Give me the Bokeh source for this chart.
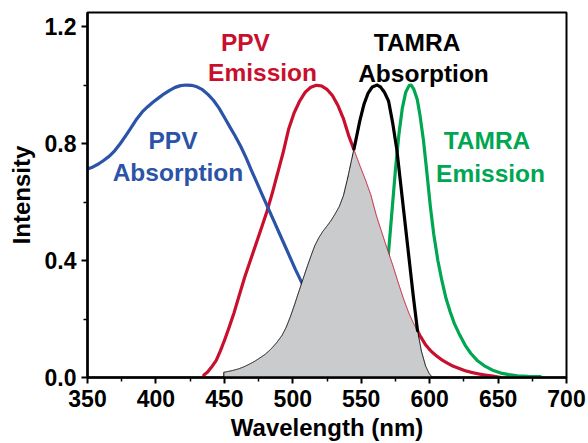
import numpy as np
from bokeh.plotting import figure
from bokeh.models import Range1d, FixedTicker, PrintfTickFormatter, Label
from bokeh.embed import file_html
from bokeh.resources import INLINE

# ---------------- data ----------------
ppv_abs_wl = [350, 354, 358, 362, 366, 370, 374, 378, 382, 386, 390, 394, 398, 402, 406, 410, 414, 418, 422,
              426, 430, 434, 438, 442, 446, 450, 454, 458, 462, 466, 470, 474, 478, 482, 486, 490, 494, 498, 502, 507]
ppv_abs_y = [0.713, 0.720, 0.730, 0.743, 0.757, 0.776, 0.800, 0.827, 0.855, 0.884, 0.908, 0.926, 0.942, 0.956,
             0.970, 0.982, 0.992, 0.998, 1.000, 0.999, 0.994, 0.984, 0.968, 0.948, 0.922, 0.890, 0.857, 0.825,
             0.790, 0.750, 0.706, 0.664, 0.621, 0.579, 0.537, 0.495, 0.453, 0.411, 0.369, 0.320]

ppv_em_wl = [435, 438, 441, 444, 447, 450, 453, 457, 461, 465, 469, 473, 477, 481, 485, 489, 493, 497, 501, 505,
             509, 513, 517, 521, 525, 529, 533, 537, 541, 545, 549, 553, 557, 561, 565, 569, 573, 577, 581, 585,
             589, 593, 597, 601, 605, 609, 613, 617, 621, 626, 631, 636, 641, 646, 652]
ppv_em_y = [0.008, 0.020, 0.038, 0.058, 0.090, 0.126, 0.165, 0.220, 0.283, 0.345, 0.400, 0.455, 0.510, 0.566,
            0.630, 0.700, 0.770, 0.850, 0.905, 0.945, 0.975, 0.992, 0.999, 0.997, 0.985, 0.964, 0.930, 0.885,
            0.825, 0.775, 0.725, 0.677, 0.625, 0.555, 0.497, 0.440, 0.385, 0.325, 0.268, 0.218, 0.178, 0.143,
            0.112, 0.090, 0.074, 0.060, 0.049, 0.039, 0.032, 0.023, 0.017, 0.012, 0.008, 0.005, 0.0]

tamra_abs_wl = [449.6, 452, 456, 460, 464, 468, 472, 476, 480, 484, 488, 492, 495, 498, 501, 504, 507, 510, 513,
                516, 519, 522, 525, 528, 531, 534, 537, 540, 543, 546, 549, 552, 555, 558, 561.5, 564, 567, 570,
                573, 576, 579, 582, 585, 588, 591, 594, 597, 599.5, 602]
tamra_abs_y = [0.018, 0.020, 0.024, 0.029, 0.036, 0.045, 0.055, 0.067, 0.080, 0.097, 0.118, 0.143, 0.170, 0.205,
               0.245, 0.288, 0.330, 0.372, 0.412, 0.450, 0.478, 0.500, 0.518, 0.537, 0.560, 0.585, 0.622, 0.680,
               0.745, 0.810, 0.878, 0.934, 0.972, 0.993, 1.000, 0.994, 0.975, 0.945, 0.870, 0.780, 0.655, 0.530,
               0.405, 0.280, 0.165, 0.090, 0.040, 0.015, 0.0]

tamra_em_wl = [550, 555, 560, 564, 567, 570, 572.5, 575, 577.5, 580, 582.5, 585, 586.5, 588.5, 591, 593, 595.5,
               598, 600.5, 603, 606, 609, 612, 615, 618, 622, 626, 630, 635, 640, 646, 652, 658, 664, 672, 681]
tamra_em_y = [0.01, 0.03, 0.08, 0.17, 0.28, 0.43, 0.57, 0.71, 0.83, 0.92, 0.975, 0.998, 1.0, 0.985, 0.95, 0.895,
              0.81, 0.70, 0.585, 0.49, 0.40, 0.33, 0.27, 0.225, 0.185, 0.145, 0.11, 0.083, 0.057, 0.04, 0.025,
              0.015, 0.01, 0.006, 0.004, 0.003]

x_ticks = [350, 400, 450, 500, 550, 600, 650, 700]
x_minor = [375, 425, 475, 525, 575, 625, 675]
y_ticks = [0.0, 0.4, 0.8, 1.2]
y_minor = [0.2, 0.6, 1.0]

BLUE = "#2b53a7"
RED = "#c8102e"
BLACK = "#000000"
GREEN = "#00a651"
GRAY = "#c9cbcd"
FONT = "Liberation Sans"

# ---------------- figure ----------------
p = figure(width=588, height=443, output_backend="svg", toolbar_location=None,
           x_range=Range1d(350, 700), y_range=Range1d(0, 1.248),
           min_border_left=87, min_border_right=22, min_border_top=12, min_border_bottom=66)
p.background_fill_color = "white"
p.border_fill_color = "white"
p.xgrid.visible = False
p.ygrid.visible = False
p.outline_line_color = "black"
p.outline_line_width = 2
p.outline_line_alpha = 1

for ax in (p.xaxis[0], p.yaxis[0]):
    ax.axis_line_width = 2.5
    ax.major_tick_in = 0
    ax.major_tick_out = 6
    ax.minor_tick_in = 0
    ax.minor_tick_out = 4
    ax.major_tick_line_width = 2
    ax.minor_tick_line_width = 1.5
    ax.major_label_text_font = FONT
    ax.major_label_text_font_style = "bold"
    ax.major_label_text_font_size = "23px"
    ax.major_label_text_color = "black"
    ax.axis_label_text_font = FONT
    ax.axis_label_text_font_style = "bold"
    ax.axis_label_text_font_size = "24px"
    ax.axis_label_text_color = "black"

p.xaxis.ticker = FixedTicker(ticks=x_ticks, minor_ticks=x_minor)
p.yaxis.ticker = FixedTicker(ticks=y_ticks, minor_ticks=y_minor)
p.yaxis.formatter = PrintfTickFormatter(format="%.1f")
p.xaxis.axis_label = "Wavelength (nm)"
p.yaxis.axis_label = "Intensity"
p.xaxis.major_label_standoff = 6
p.yaxis.major_label_standoff = 5
p.xaxis.axis_label_standoff = 4
p.yaxis.axis_label_standoff = 7

# ---------------- derived overlap ----------------
grid = np.linspace(min(ppv_em_wl), max(ppv_em_wl), 1500)
red_i = np.interp(grid, ppv_em_wl, ppv_em_y)
blk_i = np.interp(grid, tamra_abs_wl, tamra_abs_y, left=np.nan, right=np.nan)
in_blk = ~np.isnan(blk_i)
blk0 = np.nan_to_num(blk_i)
low = np.where(in_blk, np.minimum(red_i, blk0), np.nan)

red_thick = np.where(~in_blk | (red_i >= blk0), red_i, np.nan)
blk_thick = np.where(in_blk & (blk0 >= red_i), blk_i, np.nan)
red_thin = np.where(in_blk & (red_i <= blk0 + 1e-9), red_i, np.nan)
blk_thin = np.where(in_blk & (blk0 <= red_i + 1e-9), blk_i, np.nan)

# ---------------- glyphs ----------------
p.line(tamra_em_wl, tamra_em_y, line_color=GREEN, line_width=3.2, line_join="round", line_cap="round")

m = in_blk
p.line(grid, red_thick, line_color=RED, line_width=3.2, line_join="round", line_cap="round")
p.line(ppv_abs_wl, ppv_abs_y, line_color=BLUE, line_width=3.2, line_join="round", line_cap="round")
p.varea(x=grid[m], y1=np.zeros(m.sum()), y2=low[m], fill_color=GRAY)
p.segment(x0=[tamra_abs_wl[0]], y0=[0], x1=[tamra_abs_wl[0]], y1=[tamra_abs_y[0]], line_color=BLACK, line_width=1)
p.line(grid, red_thin, line_color=RED, line_width=1)
p.line(grid, blk_thin, line_color=BLACK, line_width=1)
p.line(grid, blk_thick, line_color=BLACK, line_width=3.2, line_join="round", line_cap="round")

# ---------------- annotations ----------------
def add_label(txt, x, y, color):
    p.add_layout(Label(x=x, y=y, text=txt, text_color=color, text_font=FONT, text_font_style="bold",
                       text_font_size="24.5px", text_align="center", text_baseline="alphabetic"))

add_label("PPV", 465.4, 1.145, RED)
add_label("Emission", 477.9, 1.043, RED)
add_label("PPV", 412.5, 0.810, BLUE)
add_label("Absorption", 416.1, 0.701, BLUE)
add_label("TAMRA", 590.8, 1.145, BLACK)
add_label("Absorption", 595.5, 1.039, BLACK)
add_label("TAMRA", 641.9, 0.810, GREEN)
add_label("Emission", 644.5, 0.697, GREEN)

open("out.html", "w").write(file_html(p, INLINE))
